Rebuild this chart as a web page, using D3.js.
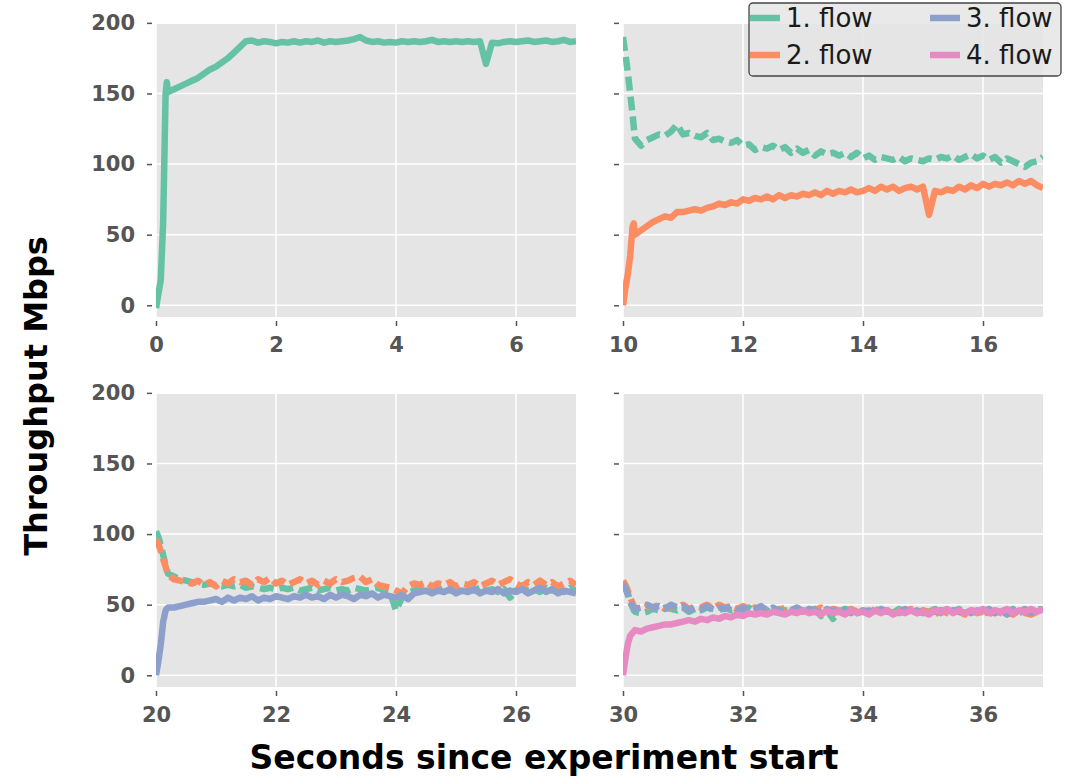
<!DOCTYPE html>
<html>
<head>
<meta charset="utf-8">
<script src="https://cdn.jsdelivr.net/npm/d3@7"></script>
<style>
  body { margin: 0; background: #ffffff; }
  text { font-family: "DejaVu Sans", sans-serif; }
</style>
</head>
<body>
<svg id="chart" width="1068" height="779"></svg>
<script>
// Flow names and colours (Set2)
const flowNames = ["1. flow", "2. flow", "3. flow", "4. flow"];
const flowColors = ["#66c2a5", "#fc8d62", "#8da0cb", "#e78ac3"];

// Each panel starts at a new second; samples are offsets from that start
const panelStarts = [0, 10, 20, 30];
const headOffsets = [0, 0.04, 0.08, 0.12, 0.16, 0.18, 0.2];
const tailOffsets = d3.range(3, 71).map(function(i) { return i / 10; });

// Tick labels
const yTickValues = [0, 50, 100, 150, 200];
const xTickOffsets = [0, 2, 4, 6];

// Panel 1 (0-7 s)
const p1Flow1 = [-2, 8, 18, 60, 150, 158, 151,
  153, 155, 157, 159, 161, 164, 167, 169, 172, 175, 179, 183, 187, 187.5,
  186, 187, 186.5, 185.5, 186.5, 186, 187, 186, 187, 186.5,
  187.5, 186, 187, 186.5, 187, 187.5, 188.5, 190, 187.5, 186.5,
  187, 186, 186.5, 186, 187, 186.5, 187, 186.5, 187, 188,
  186.5, 187, 186.5, 187, 186.5, 187, 186.5, 187, 171, 186,
  185.5, 186.5, 187, 186.5, 187, 187.5, 186.5, 187, 187.5, 186.5,
  187, 188, 186.5, 187];

// Panel 2 (10-17 s)
const p2Flow1 = [190, 178, 165, 150, 135, 126, 118,
  113, 117, 119, 121, 120, 123, 128, 121,
  122, 120, 119, 122, 117, 118, 116, 115, 117, 113,
  114, 110, 112, 111, 113, 110, 112, 108, 111, 108,
  110, 106, 109, 107, 108, 106, 108, 105, 108, 104,
  106, 103, 105, 104, 103, 105, 102, 104, 103, 102,
  104, 103, 105, 104, 106, 103, 105, 107, 104, 106,
  103, 105, 101, 104, 102, 100, 98, 101, 102, 105];
const p2Flow2 = [0, 12, 22, 35, 56, 58, 50,
  53, 56, 59, 61, 63, 62, 66, 66,
  67, 68, 67, 69, 70, 72, 71, 73, 72, 75,
  74, 76, 75, 77, 75, 78, 76, 78, 77, 79,
  78, 80, 78, 81, 79, 81, 80, 82, 80, 81,
  83, 81, 84, 82, 84, 81, 83, 84, 82, 84,
  64, 81, 80, 82, 81, 84, 82, 85, 83, 86,
  84, 86, 85, 87, 85, 88, 86, 88, 85, 83];

// Panel 3 (20-27 s)
const p3Flow1 = [102, 98, 92, 85, 78, 75, 72,
  70, 68, 67, 66, 65, 64, 65, 64,
  63, 64, 63, 64, 62, 63, 62, 61, 62, 61,
  62, 61, 62, 60, 61, 62, 60, 61, 62, 60,
  61, 60, 62, 61, 60, 61, 62, 60, 59, 46,
  55, 58, 60, 61, 59, 61, 60, 62, 60, 61,
  59, 61, 60, 62, 60, 61, 59, 61, 55, 60,
  62, 60, 61, 59, 62, 60, 61, 59, 62, 60];
const p3Flow2 = [96, 93, 88, 82, 77, 74, 71,
  68, 67, 66, 65, 67, 64, 66, 63,
  67, 65, 68, 66, 67, 64, 68, 66, 69, 65,
  67, 64, 66, 68, 65, 67, 64, 67, 65, 68,
  66, 67, 69, 70, 66, 68, 64, 63, 62, 60,
  58, 63, 65, 64, 66, 63, 65, 64, 66, 63,
  65, 64, 66, 63, 65, 67, 64, 66, 68, 65,
  63, 66, 64, 67, 64, 66, 63, 65, 67, 64];
const p3Flow3 = [0, 10, 22, 38, 46, 47, 48,
  48, 49, 50, 51, 52, 52, 53, 54,
  52, 55, 53, 55, 54, 56, 53, 55, 54, 56,
  55, 54, 56, 55, 57, 55, 56, 54, 57, 55,
  57, 56, 54, 57, 56, 58, 55, 57, 56, 55,
  57, 54, 58, 59, 60, 58, 60, 59, 61, 58,
  60, 59, 61, 58, 60, 59, 61, 58, 60, 59,
  61, 58, 60, 62, 59, 61, 58, 60, 59, 58];

// Panel 4 (30-37 s)
const p4Flow1 = [64, 62, 58, 52, 48, 46, 45,
  44, 45, 47, 46, 48, 47, 46, 48,
  45, 47, 46, 48, 47, 46, 48, 46, 47, 46,
  48, 45, 47, 46, 44, 47, 46, 45, 47, 46,
  45, 47, 42, 46, 40, 45, 47, 46, 44, 46,
  45, 47, 45, 46, 44, 47, 45, 46, 44, 46,
  45, 47, 44, 46, 45, 47, 44, 46, 45, 43,
  46, 44, 46, 45, 47, 44, 46, 45, 47, 46];
const p4Flow2 = [67, 64, 60, 55, 51, 49, 48,
  47, 49, 48, 50, 47, 49, 48, 50,
  47, 49, 48, 50, 47, 50, 48, 49, 47, 49,
  47, 48, 46, 48, 47, 46, 48, 46, 47, 45,
  47, 46, 48, 45, 47, 46, 44, 47, 45, 46,
  44, 47, 45, 46, 44, 46, 45, 47, 44, 46,
  45, 43, 46, 44, 46, 45, 43, 46, 44, 45,
  43, 46, 44, 45, 43, 46, 44, 43, 45, 44];
const p4Flow3 = [65, 62, 57, 52, 49, 48, 47,
  48, 50, 48, 49, 47, 50, 48, 49,
  46, 48, 47, 49, 46, 48, 47, 49, 46, 48,
  46, 47, 49, 46, 48, 45, 47, 46, 48, 45,
  47, 46, 44, 47, 45, 48, 46, 44, 47, 45,
  46, 44, 47, 45, 46, 44, 47, 45, 46, 44,
  47, 45, 46, 44, 46, 45, 47, 44, 46, 45,
  47, 44, 46, 43, 46, 45, 47, 44, 46, 47];
const p4Flow4 = [0, 12, 22, 28, 30, 31, 32,
  31, 33, 34, 35, 36, 36, 37, 38,
  39, 38, 40, 39, 41, 40, 42, 41, 43, 42,
  44, 43, 44, 43, 45, 44, 43, 45, 44, 46,
  44, 45, 43, 46, 44, 45, 43, 46, 44, 45,
  43, 46, 44, 46, 43, 45, 44, 46, 44, 45,
  43, 46, 45, 47, 44, 46, 44, 46, 45, 47,
  44, 46, 45, 47, 44, 46, 45, 47, 45, 47];

// Panel layout
const panelWidth = 420;
const panelHeight = 293;
const colX = [156, 623];
const rowY = [24, 394];

// Which flows sit in which panel; the newest flow of a panel is drawn solid
const panels = [
  { start: panelStarts[0], col: 0, row: 0, series: [[0, p1Flow1]] },
  { start: panelStarts[1], col: 1, row: 0, series: [[0, p2Flow1], [1, p2Flow2]] },
  { start: panelStarts[2], col: 0, row: 1, series: [[0, p3Flow1], [1, p3Flow2], [2, p3Flow3]] },
  { start: panelStarts[3], col: 1, row: 1, series: [[0, p4Flow1], [1, p4Flow2], [2, p4Flow3], [3, p4Flow4]] }
];

const svg = d3.select("#chart");

// Shared y scale
const yLinearScale = d3.scaleLinear().domain([-8.3, 199.2]).range([panelHeight, 0]);

panels.forEach(function(panel, index) {
  const chart = svg.append("g")
    .attr("transform", "translate(" + colX[panel.col] + "," + rowY[panel.row] + ")");

  const xLinearScale = d3.scaleLinear()
    .domain([panel.start, panel.start + 7])
    .range([0, panelWidth]);
  const xTicks = xTickOffsets.map(function(o) { return panel.start + o; });

  // Grey background
  chart.append("rect")
    .attr("width", panelWidth)
    .attr("height", panelHeight)
    .attr("fill", "#e5e5e5");

  // White grid lines
  chart.selectAll(".vgrid")
    .data(xTicks)
    .enter()
    .append("line")
    .attr("x1", function(d) { return xLinearScale(d); })
    .attr("x2", function(d) { return xLinearScale(d); })
    .attr("y1", 0)
    .attr("y2", panelHeight)
    .attr("stroke", "#ffffff")
    .attr("stroke-width", 1.5);

  chart.selectAll(".hgrid")
    .data(yTickValues.filter(function(v) { return yLinearScale(v) >= 0; }))
    .enter()
    .append("line")
    .attr("x1", 0)
    .attr("x2", panelWidth)
    .attr("y1", function(d) { return yLinearScale(d); })
    .attr("y2", function(d) { return yLinearScale(d); })
    .attr("stroke", "#ffffff")
    .attr("stroke-width", 1.5);

  // Clip lines to the panel
  chart.append("clipPath")
    .attr("id", "clip" + index)
    .append("rect")
    .attr("width", panelWidth)
    .attr("height", panelHeight);

  const line = d3.line()
    .x(function(d) { return xLinearScale(d.t); })
    .y(function(d) { return yLinearScale(d.v); });

  const lines = chart.append("g").attr("clip-path", "url(#clip" + index + ")");

  panel.series.forEach(function(s, i) {
    const times = headOffsets.concat(tailOffsets);
    const points = s[1].map(function(v, j) {
      return { t: panel.start + times[j], v: v };
    });
    const newest = i === panel.series.length - 1;
    lines.append("path")
      .datum(points)
      .attr("d", line)
      .attr("fill", "none")
      .attr("stroke", flowColors[s[0]])
      .attr("stroke-width", 6.5)
      .attr("stroke-linejoin", "round")
      .attr("stroke-linecap", "butt")
      .attr("stroke-dasharray", newest ? null : "14,6");
  });

  // Axes
  const bottomAxis = d3.axisBottom(xLinearScale)
    .tickValues(xTicks)
    .tickSize(5)
    .tickPadding(11)
    .tickFormat(d3.format("d"));
  const leftAxis = d3.axisLeft(yLinearScale)
    .tickValues(yTickValues)
    .tickSize(5)
    .tickPadding(12);
  if (panel.col === 1) {
    leftAxis.tickFormat("");
  }

  const xAxisG = chart.append("g")
    .attr("transform", "translate(0," + (panelHeight + 4) + ")")
    .call(bottomAxis);
  const yAxisG = chart.append("g")
    .attr("transform", "translate(-4,0)")
    .call(leftAxis);

  [xAxisG, yAxisG].forEach(function(g) {
    g.select(".domain").remove();
    g.selectAll(".tick line").attr("stroke", "#555555").attr("stroke-width", 1.5);
    g.selectAll(".tick text")
      .attr("fill", "#555555")
      .style("font-family", "'DejaVu Sans', sans-serif")
      .style("font-size", "21px")
      .style("font-weight", "bold");
  });
});

// Axis titles
svg.append("text")
  .attr("transform", "translate(47,396) rotate(-90)")
  .attr("text-anchor", "middle")
  .style("font-size", "32px")
  .style("font-weight", "bold")
  .attr("fill", "#000000")
  .text("Throughput Mbps");

svg.append("text")
  .attr("x", 544)
  .attr("y", 769)
  .attr("text-anchor", "middle")
  .style("font-size", "33px")
  .style("font-weight", "bold")
  .attr("fill", "#000000")
  .text("Seconds since experiment start");

// Legend, two columns
const legend = svg.append("g").attr("transform", "translate(749,3)");
legend.append("rect")
  .attr("width", 312)
  .attr("height", 73)
  .attr("rx", 4)
  .attr("fill", "#e5e5e5")
  .attr("fill-opacity", 0.85)
  .attr("stroke", "#444444")
  .attr("stroke-width", 1.3);

const legendColX = [1, 181];
const legendRowY = [15, 52];
flowNames.forEach(function(name, i) {
  const col = Math.floor(i / 2);
  const row = i % 2;
  const item = legend.append("g")
    .attr("transform", "translate(" + legendColX[col] + "," + legendRowY[row] + ")");
  item.append("line")
    .attr("x1", 0)
    .attr("x2", 30)
    .attr("stroke", flowColors[i])
    .attr("stroke-width", 6.5);
  item.append("text")
    .attr("x", 36)
    .attr("dy", "0.35em")
    .style("font-size", "26px")
    .attr("fill", "#1a1a1a")
    .text(name);
});
</script>
</body>
</html>
